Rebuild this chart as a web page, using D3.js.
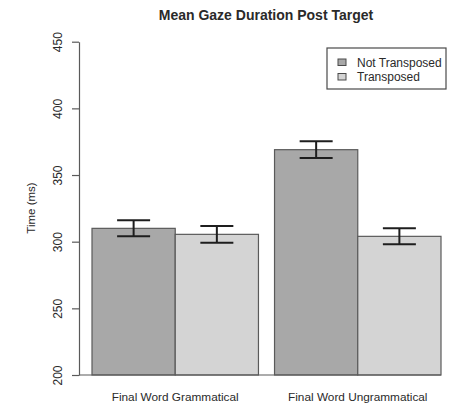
<!DOCTYPE html>
<html>
<head>
<meta charset="utf-8">
<script src="https://cdn.jsdelivr.net/npm/d3@7"></script>
<style>
  body { margin: 0; background: #fff; }
  text { font-family: "Liberation Sans", Arial, sans-serif; fill: #2a2a2a; }
</style>
</head>
<body>
<svg width="450" height="408"></svg>
<script>
const groups = ["Final Word Grammatical", "Final Word Ungrammatical"];
const series = ["Not Transposed", "Transposed"];
const meanNotTransposed = [310, 369];
const meanTransposed = [305.5, 304];
const errNotTransposed = [6, 6.3];
const errTransposed = [6.3, 6];
const yTicks = [200, 250, 300, 350, 400, 450];

const svg = d3.select("svg");

// y: 200..450 ms
const y = d3.scaleLinear()
    .domain([200, 450])
    .range([375, 41.7]);

const x0 = d3.scaleBand()
    .domain(groups)
    .range([92, 441])
    .paddingInner(0.088);

const x1 = d3.scaleBand()
    .domain(series)
    .range([0, x0.bandwidth()]);

const color = d3.scaleOrdinal()
    .domain(series)
    .range(["#a8a8a8", "#d4d4d4"]);

const rows = [];
groups.forEach((g, i) => {
  rows.push({ group: g, key: series[0], value: meanNotTransposed[i], err: errNotTransposed[i] });
  rows.push({ group: g, key: series[1], value: meanTransposed[i], err: errTransposed[i] });
});

// bars
svg.append("g").selectAll("rect")
  .data(rows)
  .enter().append("rect")
    .attr("x", d => x0(d.group) + x1(d.key))
    .attr("y", d => y(d.value))
    .attr("width", x1.bandwidth())
    .attr("height", d => y(200) - y(d.value))
    .attr("fill", d => color(d.key))
    .attr("stroke", "#5a5a5a")
    .attr("stroke-width", 1.2);

// baseline
svg.append("line")
    .attr("x1", 79).attr("x2", x0.range()[1])
    .attr("y1", y(200)).attr("y2", y(200))
    .attr("stroke", "#5a5a5a")
    .attr("stroke-width", 1.2);

// error bars
const eb = svg.append("g").attr("stroke", "#1e1e1e").attr("stroke-width", 2);
const cap = 16.5;
rows.forEach(d => {
  const cx = x0(d.group) + x1(d.key) + x1.bandwidth() / 2;
  eb.append("line").attr("x1", cx).attr("x2", cx)
    .attr("y1", y(d.value + d.err)).attr("y2", y(d.value - d.err));
  eb.append("line").attr("x1", cx - cap).attr("x2", cx + cap)
    .attr("y1", y(d.value + d.err)).attr("y2", y(d.value + d.err));
  eb.append("line").attr("x1", cx - cap).attr("x2", cx + cap)
    .attr("y1", y(d.value - d.err)).attr("y2", y(d.value - d.err));
});

// y axis
const yAxis = svg.append("g")
    .attr("transform", "translate(79,0)")
    .call(d3.axisLeft(y).tickValues(yTicks).tickSize(7).tickSizeOuter(0).tickFormat(d3.format("d")));
yAxis.select(".domain").attr("stroke", "#5a5a5a").attr("stroke-width", 1.2);
yAxis.selectAll(".tick line").attr("stroke", "#5a5a5a").attr("stroke-width", 1.2);
yAxis.selectAll(".tick text")
    .attr("x", 0).attr("y", 0).attr("dy", null)
    .attr("text-anchor", "middle")
    .attr("transform", "translate(-17,0) rotate(-90)")
    .attr("font-size", 12)
    .attr("font-family", "Liberation Sans, Arial, sans-serif")
    .attr("fill", "#2a2a2a");

// x labels
svg.append("g").selectAll("text")
  .data(groups)
  .enter().append("text")
    .attr("x", d => x0(d) + x0.bandwidth() / 2)
    .attr("y", 401)
    .attr("text-anchor", "middle")
    .attr("font-size", 11.8)
    .text(d => d);

// title
svg.append("text")
    .attr("x", 266).attr("y", 20)
    .attr("text-anchor", "middle")
    .attr("font-size", 14)
    .attr("font-weight", "bold")
    .text("Mean Gaze Duration Post Target");

// y label
svg.append("text")
    .attr("transform", "translate(35,208) rotate(-90)")
    .attr("text-anchor", "middle")
    .attr("font-size", 11.5)
    .text("Time (ms)");

// legend
const lg = svg.append("g");
lg.append("rect")
    .attr("x", 327).attr("y", 48)
    .attr("width", 119).attr("height", 41)
    .attr("fill", "#fff")
    .attr("stroke", "#4a4a4a")
    .attr("stroke-width", 1.2);
series.forEach((s, i) => {
  lg.append("rect")
      .attr("x", 338).attr("y", 59 + i * 14.5)
      .attr("width", 8).attr("height", 6.5)
      .attr("fill", color(s))
      .attr("stroke", "#4a4a4a");
  lg.append("text")
      .attr("x", 357).attr("y", 66.5 + i * 14.5)
      .attr("font-size", 12)
      .text(s);
});
</script>
</body>
</html>
